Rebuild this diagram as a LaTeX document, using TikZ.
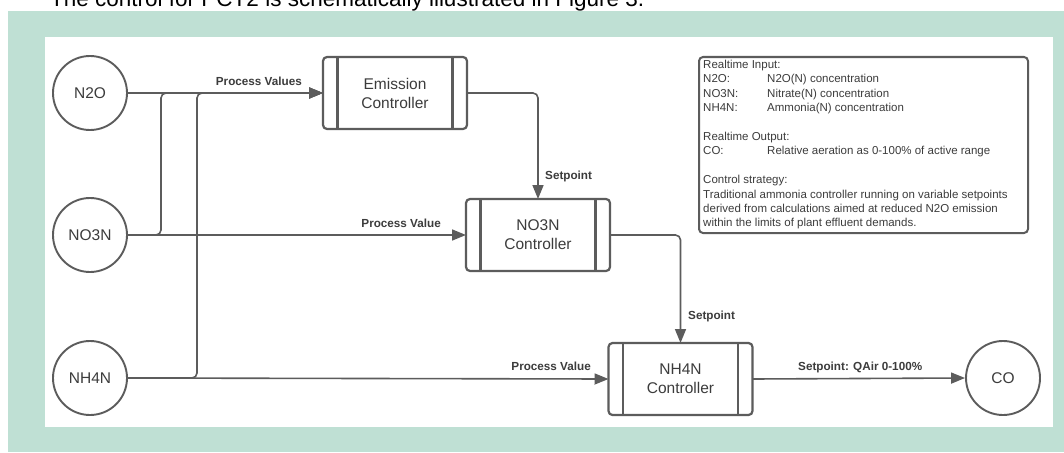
\documentclass[tikz,border=0pt]{standalone}
\usepackage{fontspec}
\setmainfont{Liberation Sans}
\usetikzlibrary{arrows.meta}
\definecolor{panelgreen}{RGB}{191,224,212}
\definecolor{linegray}{RGB}{92,92,92}
\definecolor{textgray}{RGB}{60,60,60}
\tikzset{
  circ/.style={circle, draw=linegray, line width=1.9pt, minimum size=74pt, inner sep=0pt,
    font=\fontsize{15.5}{18}\selectfont, text=textgray},
  ctrl/.style={rectangle, rounded corners=4pt, draw=linegray, line width=2.2pt, outer sep=0pt,
    minimum width=144pt, minimum height=72pt, align=center, inner sep=0pt,
    font=\fontsize{15.5}{19}\selectfont, text=textgray},
  barline/.style={draw=linegray, line width=2.2pt},
  conn/.style={draw=linegray, line width=1.6pt, rounded corners=5pt,
    -{Triangle[length=14pt,width=11pt]}},
  lab/.style={inner sep=0pt, font=\fontsize{11.7}{14}\selectfont\bfseries, text=textgray},
  legbox/.style={rectangle, rounded corners=4pt, draw=linegray, line width=2pt, outer sep=0pt, inner sep=0pt},
}
\begin{document}
\begin{tikzpicture}[x=1pt,y=-1pt]
\useasboundingbox (0,0) rectangle (1064,452);
\clip (0,0) rectangle (1064,452);
\fill[panelgreen] (8,11) rectangle (1064,452);
\fill[white] (45,37) rectangle (1053,427);
\node[anchor=base west, inner sep=0pt, font=\fontsize{22.5}{27}\selectfont, text=black] (title) at (50,7)
  {The control for PCT2 is schematically illustrated in Figure 3.};

% sources
\node[circ] (n2o) at (90,93) {N2O};
\node[circ] (no3n) at (90,235) {NO3N};
\node[circ] (nh4n) at (90,378) {NH4N};
\node[circ] (co) at (1003,378) {CO};

% controllers
\node[ctrl] (emis) at (395,93) {Emission\\Controller};
\node[ctrl] (no3c) at (538,235) {NO3N\\Controller};
\node[ctrl] (nh4c) at (680.5,379) {NH4N\\Controller};
\foreach \n in {emis,no3c,nh4c}{
  \draw[barline] ([xshift=14.5pt]\n.north west) -- ([xshift=14.5pt]\n.south west);
  \draw[barline] ([xshift=-14.5pt]\n.north east) -- ([xshift=-14.5pt]\n.south east);
}

% junction points
\coordinate (j1) at (161,93);
\coordinate (j2) at (197,93);

% connectors
\draw[conn] (no3n.east) -| (j1) -- (emis.west);
\draw[conn] (nh4n.east) -| (j2) -- (emis.west);
\draw[conn] (n2o.east) -- (emis.west);
\draw[conn] (no3n.east) -- (no3c.west);
\draw[conn] (nh4n.east) -- (nh4c.west);
\draw[conn] (emis.east) -| (no3c.north);
\draw[conn] (no3c.east) -| (nh4c.north);
\draw[conn] (nh4c.east) -- (co.west);

% labels
\node[lab, anchor=base east] (l1) at (302,85) {Process Values};
\node[lab, anchor=base east] (l2) at (441,227) {Process Value};
\node[lab, anchor=base east] (l3) at (591,370) {Process Value};
\node[lab, anchor=base west] (l4) at (545,179) {Setpoint};
\node[lab, anchor=base west] (l5) at (688,319) {Setpoint};
\node[lab, anchor=base west] (l6) at (798,370) {Setpoint: QAir 0-100\%};

% legend
\node[legbox, minimum width=329pt, minimum height=176pt, anchor=north west] (legend) at (699,57) {};
\node[anchor=base west, inner sep=0pt, font=\fontsize{11.5}{14.4}\selectfont, text=textgray] (legtext) at (703,68.5) {%
\begin{tabular}[t]{@{}p{64pt}@{}l@{}}
\multicolumn{2}{@{}l@{}}{Realtime Input:}\\
N2O: & N2O(N) concentration\\
NO3N: & Nitrate(N) concentration\\
NH4N: & Ammonia(N) concentration\\
 & \\
\multicolumn{2}{@{}l@{}}{Realtime Output:}\\
CO: & Relative aeration as 0-100\% of active range\\
 & \\
\multicolumn{2}{@{}l@{}}{Control strategy:}\\
\multicolumn{2}{@{}l@{}}{Traditional ammonia controller running on variable setpoints}\\
\multicolumn{2}{@{}l@{}}{derived from calculations aimed at reduced N2O emission}\\
\multicolumn{2}{@{}l@{}}{within the limits of plant effluent demands.}
\end{tabular}};
\end{tikzpicture}
\end{document}
